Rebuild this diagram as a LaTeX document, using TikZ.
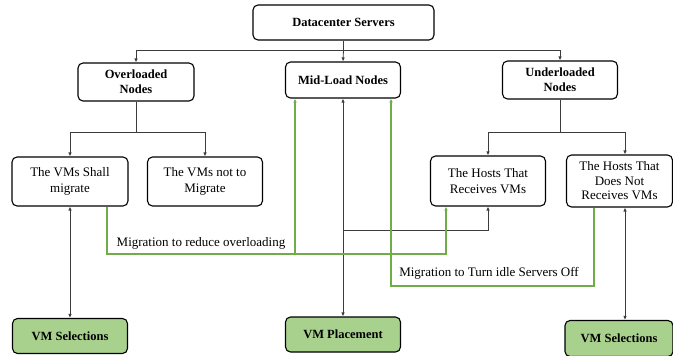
\documentclass[tikz,border=0pt]{standalone}
\usepackage{fontspec}
\setmainfont{Liberation Serif}
\usetikzlibrary{arrows.meta}
\definecolor{lnk}{RGB}{60,60,60}
\definecolor{grn}{RGB}{112,173,71}
\definecolor{grnfill}{RGB}{169,209,142}
\tikzset{
  box/.style={draw=black, line width=1.1pt, rounded corners=5pt, align=center, inner sep=1pt},
  hdr/.style={box, font=\fontsize{12.5}{15}\selectfont\bfseries},
  sub/.style={box, font=\fontsize{13}{16}\selectfont},
  bot/.style={box, fill=grnfill, font=\fontsize{12.5}{13.5}\selectfont\bfseries},
  conn/.style={draw=lnk, line width=0.8pt, -{Latex[length=4pt,width=3.5pt]}},
  conn2/.style={draw=lnk, line width=0.8pt, {Latex[length=4pt,width=3.5pt]}-{Latex[length=4pt,width=3.5pt]}},
  gconn/.style={draw=grn, line width=1.2pt, -{Latex[length=4pt,width=3.5pt]}},
  lbl/.style={font=\fontsize{13}{14}\selectfont, inner sep=0pt}
}
\begin{document}
\begin{tikzpicture}[x=1pt,y=-1pt]
\useasboundingbox (0,0) rectangle (673,356);
% nodes
\node[hdr, minimum width=181pt, minimum height=35pt] (dc) at (343.5,22.5) {Datacenter Servers};
\node[hdr, minimum width=116pt, minimum height=38pt] (over) at (136,82) {Overloaded\\Nodes};
\node[hdr, minimum width=115pt, minimum height=36pt] (mid) at (343,80) {Mid-Load Nodes};
\node[hdr, minimum width=115pt, minimum height=38pt] (under) at (560,80) {Underloaded\\Nodes};
\node[sub, minimum width=116pt, minimum height=49pt] (shall) at (70,181.5) {The VMs Shall\\migrate};
\node[sub, minimum width=115pt, minimum height=49pt] (not) at (205,181.5) {The VMs not to\\Migrate};
\node[sub, minimum width=115pt, minimum height=50pt] (recv) at (488,181) {The Hosts That\\Receives VMs};
\node[sub, minimum width=106pt, minimum height=52pt, font=\fontsize{13}{14.5}\selectfont] (dnot) at (619.5,181) {The Hosts That\\Does Not\\Receives VMs};
\node[bot, minimum width=115pt, minimum height=35pt] (sel1) at (70,336) {VM Selections};
\node[bot, minimum width=115pt, minimum height=35pt] (place) at (343,334.5) {VM Placement};
\node[bot, minimum width=108pt, minimum height=36pt] (sel2) at (619,338.5) {VM Selections};
% junctions
\coordinate (j1) at (343.5,50);
\coordinate (j2) at (136,132);
\coordinate (j3) at (560,132);
\coordinate (k1) at (343,230);
\coordinate (ax) at (625,0);
\coordinate (ga) at (107,254);
\coordinate (gb) at (446,254);
\coordinate (gm) at (295,254);
\coordinate (gc) at (594,286);
\coordinate (gd) at (391,286);
% tree connectors
\draw[draw=lnk, line width=0.8pt] (dc.south) -- (j1);
\draw[conn] (j1) -- (mid.north);
\draw[conn] (j1) -| (over.north);
\draw[conn] (j1) -| (under.north);
\draw[draw=lnk, line width=0.8pt] (over.south) -- (j2);
\draw[conn] (j2) -| (shall.north);
\draw[conn] (j2) -| (not.north);
\draw[draw=lnk, line width=0.8pt] (under.south) -- (j3);
\draw[conn] (j3) -| (recv.north);
\draw[conn] (j3) -| (dnot.north -| ax);
% vertical two-way links
\draw[conn2] (shall.south) -- (sel1.north);
\draw[conn2] (mid.south) -- (place.north);
\draw[conn2] (dnot.south -| ax) -- (sel2.north -| ax);
\draw[conn] (k1) -| (recv.south);
% green migrations
\draw[gconn] (shall.south -| ga) -- (ga) -| (recv.south -| gb);
\draw[gconn] (gm) -- (mid.south -| gm);
\draw[gconn] (dnot.south -| gc) -- (gc) -| (mid.south -| gd);
% labels
\node[lbl] (l1) at (201,243) {Migration to reduce overloading};
\node[lbl] (l2) at (489,273) {Migration to Turn idle Servers Off};
\end{tikzpicture}
\end{document}
